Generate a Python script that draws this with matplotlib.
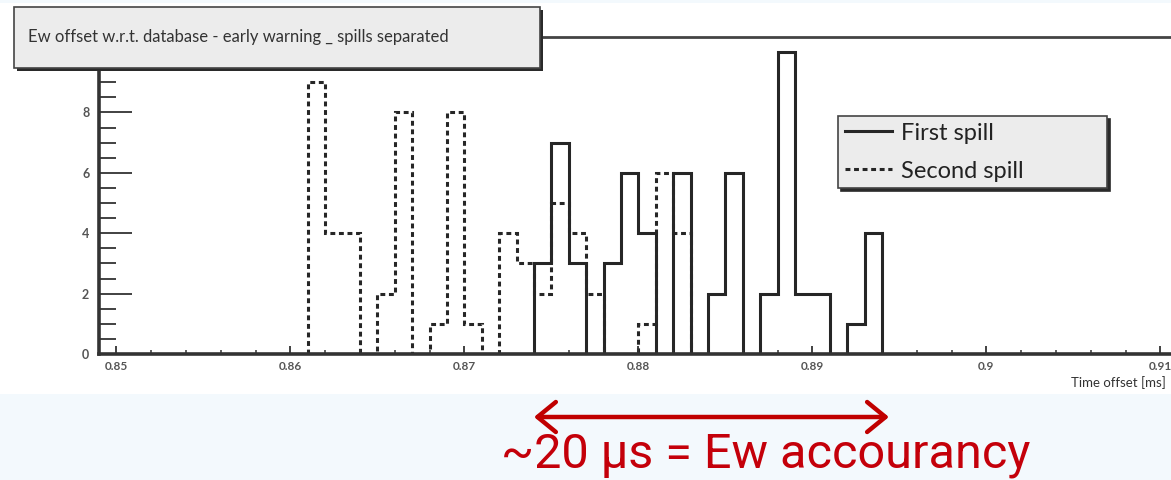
import numpy as np
import matplotlib
matplotlib.use("Agg")
import matplotlib.pyplot as plt
from matplotlib.patches import Rectangle
from matplotlib.ticker import MultipleLocator

# Histogram contents, one entry per 1 us bin from 0.861 ms to 0.894 ms
bin_edges = np.linspace(0.861, 0.894, 34)
first_spill = [0, 0, 0, 0, 0, 0, 0, 0, 0, 0, 0, 0, 0,
               3, 7, 3, 0, 3, 6, 4, 0, 6, 0, 2, 6, 0, 2, 10, 2, 2, 0, 1, 4]
second_spill = [9, 4, 4, 0, 2, 8, 0, 1, 8, 1, 0, 4, 3, 2, 5, 4, 2, 0, 0, 1, 6, 4,
                0, 0, 0, 0, 0, 0, 0, 0, 0, 0, 0]

x_major = [0.85, 0.86, 0.87, 0.88, 0.89, 0.90, 0.91]
x_labels = ["0.85", "0.86", "0.87", "0.88", "0.89", "0.9", "0.91"]
y_major = [0, 2, 4, 6, 8]

title = "Ew offset w.r.t. database - early warning _ spills separated"
accuracy_span = [0.874, 0.8944]   # ms, the ~20 us window
accuracy_note = "~20 \u03bcs = Ew accourancy"

W, H = 1171, 480


def fx(px):
    return px / W


def fy(py):
    return 1 - py / H


def main():
    fig = plt.figure(figsize=(W / 100, H / 100), dpi=100)
    fig.patch.set_facecolor("white")

    # light slide background below the plot and a thin strip on top
    fig.add_artist(Rectangle((0, 0), 1, fy(394), transform=fig.transFigure,
                             facecolor="#f3f9fd", edgecolor="none", zorder=-1))
    fig.add_artist(Rectangle((0, fy(3)), 1, 3 / H, transform=fig.transFigure,
                             facecolor="#f3f9fd", edgecolor="none", zorder=-1))

    ax = fig.add_axes([fx(99), fy(354), fx(W - 99), (354 - 37) / H])
    ax.set_xlim(0.849, 0.849 + (W - 99) / 17400)
    ax.set_ylim(0, 10.5)

    ink = "#262626"
    ax.stairs(first_spill, bin_edges, color=ink, lw=2.2, label="First spill")
    ax.stairs(second_spill, bin_edges, color=ink, lw=2.2,
              linestyle=(0, (1.6, 1.2)), label="Second spill")

    # ROOT-like frame
    for side in ("left", "bottom"):
        ax.spines[side].set_linewidth(2.6)
        ax.spines[side].set_color("#333333")
    ax.spines["top"].set_linewidth(2.0)
    ax.spines["top"].set_color("#444444")
    ax.spines["right"].set_visible(False)

    ax.set_xticks(x_major)
    ax.set_xticklabels(x_labels)
    ax.xaxis.set_minor_locator(MultipleLocator(0.002))
    ax.set_yticks(y_major)
    ax.set_yticklabels([str(v) for v in y_major])
    ax.yaxis.set_minor_locator(MultipleLocator(0.5))

    ax.tick_params(axis="both", which="both", direction="in", top=False, right=False,
                   color="#333333", width=1.3, labelcolor="#555555")
    ax.tick_params(axis="x", which="major", length=6, pad=5, labelsize=8.5)
    ax.tick_params(axis="x", which="minor", length=3, width=1.1)
    ax.tick_params(axis="y", which="major", length=24, pad=7, labelsize=9)
    ax.tick_params(axis="y", which="minor", length=12)
    for lab in ax.get_xticklabels() + ax.get_yticklabels():
        lab.set_family("Lato")
        lab.set_weight("bold")

    ax.set_xlabel("Time offset [ms]", loc="right", fontsize=9.5, family="Lato",
                  color="#333333")
    ax.xaxis.set_label_coords((1166 - 99) / (W - 99), -(376 - 354) / (354 - 37))

    leg = ax.legend(loc="upper left", mode="expand",
                    bbox_to_anchor=(fx(838), fy(116), fx(1107 - 838), 0),
                    bbox_transform=fig.transFigure, borderaxespad=0,
                    prop={"family": "Lato", "size": 17}, handlelength=2.0,
                    handletextpad=0.4, borderpad=0.28, labelspacing=0.72,
                    fancybox=False, framealpha=1,
                    shadow={"facecolor": "#2a2a2a", "edgecolor": "#2a2a2a", "alpha": 1})
    leg.get_frame().set_facecolor("#ececec")
    leg.get_frame().set_edgecolor("#444444")
    leg.get_frame().set_linewidth(1.2)
    for t in leg.get_texts():
        t.set_color("#222222")

    # title box with its shadow
    fig.add_artist(Rectangle((fx(17), fy(71)), fx(526), 61 / H, transform=fig.transFigure,
                             facecolor="#2a2a2a", edgecolor="none", zorder=3))
    fig.add_artist(Rectangle((fx(14), fy(68)), fx(526), 61 / H, transform=fig.transFigure,
                             facecolor="#ececec", edgecolor="#444444", lw=1.2, zorder=3))
    fig.text(fx(28), fy(37), title, ha="left", va="center", fontsize=12,
             family="Lato", color="#333333", zorder=4)

    # accuracy window marker
    ax.annotate("", xy=(accuracy_span[1], fy(417)), xytext=(accuracy_span[0], fy(417)),
                xycoords=("data", "figure fraction"),
                textcoords=("data", "figure fraction"),
                arrowprops=dict(arrowstyle="<->,head_length=1.1,head_width=0.9",
                                color="#c00000", lw=3.2, mutation_scale=12,
                                shrinkA=0, shrinkB=0),
                annotation_clip=False)
    fig.text(fx(766), fy(468), accuracy_note, ha="center", va="baseline",
             fontsize=35, family=["Roboto", "DejaVu Sans"], color="#c4000a")

    fig.savefig("out.png", dpi=100)


if __name__ == "__main__":
    main()
